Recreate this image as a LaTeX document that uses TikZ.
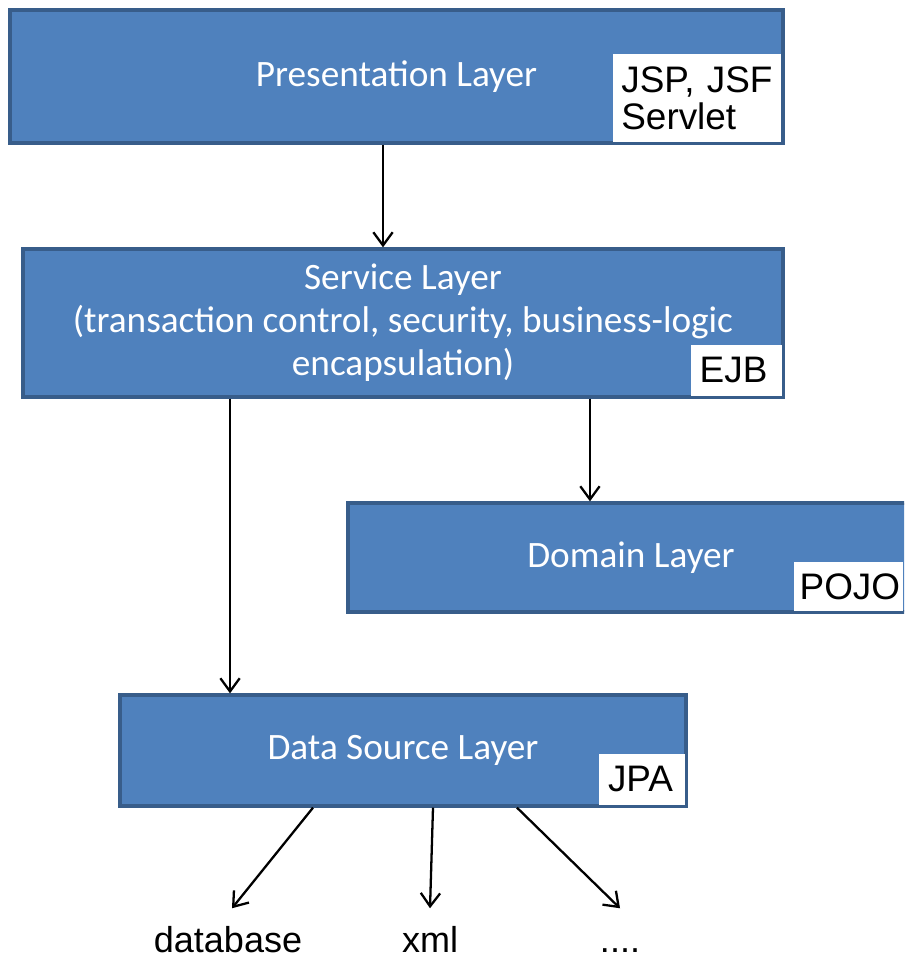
\documentclass[tikz,border=0pt]{standalone}
\usepackage{fontspec}
\setmainfont{Liberation Sans}
\newfontfamily\layerfont{Carlito}
\usepackage{tikz}
\usetikzlibrary{positioning, arrows.meta}
\definecolor{layerblue}{HTML}{4F81BD}
\definecolor{layeredge}{HTML}{385D8A}

\begin{document}
\begin{tikzpicture}[
        x=0.02cm, y=-0.02cm,
        layer/.style={rectangle, draw=layeredge, line width=1.9pt, fill=layerblue, text=white, align=center, font=\layerfont\fontsize{21.2}{24.4}\selectfont},
        tag/.style={rectangle, fill=white, text=black, align=left, inner xsep=5pt, inner ysep=0pt, font=\fontsize{21}{21}\selectfont},
        target/.style={text=black, inner ysep=0.5pt, text height=24.5pt, text depth=0pt, font=\fontsize{20.5}{21}\selectfont},
        arrow/.style={-{Straight Barb[length=7.5pt,width=11pt]}, line width=1.3pt}
    ]
    \useasboundingbox (0,0) rectangle (904,959);
    \clip (0,0) rectangle (904,959);

    % Layers
    \node[layer, minimum width=15.46cm, minimum height=2.66cm] (pres) at (396.5,76.5) {Presentation Layer};
    \node[layer, minimum width=15.2cm, minimum height=2.96cm] (srv) at (403,323) {Service Layer\\(transaction control, security, business-logic\\encapsulation)};
    \node[layer, minimum width=11.32cm, minimum height=2.18cm] (dom) at (631,557.5) {Domain Layer};
    \node[layer, minimum width=11.32cm, minimum height=2.22cm] (data) at (403,750.5) {Data Source Layer};

    % Technology tags
    \node[tag, text width=86pt, minimum height=50.5pt, above left=1.1pt and 1.7pt of pres.south east] (jsp) {JSP, JSF\\Servlet};
    \node[tag, text width=42pt, minimum height=29.5pt, above left=1.1pt and 1.1pt of srv.south east] (ejb) {EJB};
    \node[tag, text width=56pt, inner xsep=3pt, minimum height=28.3pt, above left=1.1pt and 6.8pt of dom.south east] (pojo) {POJO};
    \node[tag, text width=39pt, minimum height=29.5pt, above left=1.1pt and 1.1pt of data.south east] (jpa) {JPA};

    % Storage targets
    \node[target] (db) at (228,931) {database};
    \node[target] (xml) at (430,931) {xml};
    \node[target] (more) at (620,931) {....};

    % Arrows
    \draw[arrow] ([xshift=-0.27cm]pres.south) -- ([xshift=-0.27cm]pres.south |- srv.north);
    \draw[arrow] ([xshift=3.74cm]srv.south) -- ([xshift=3.74cm]srv.south |- dom.north);
    \draw[arrow] ([xshift=-3.46cm]srv.south) -- ([xshift=-3.46cm]srv.south |- data.north);
    \draw[arrow] ([xshift=-1.8cm]data.south) -- ([xshift=0.08cm]db.north);
    \draw[arrow] ([xshift=0.6cm]data.south) -- (xml.north);
    \draw[arrow] ([xshift=2.28cm]data.south) -- (more.north);

\end{tikzpicture}
\end{document}
